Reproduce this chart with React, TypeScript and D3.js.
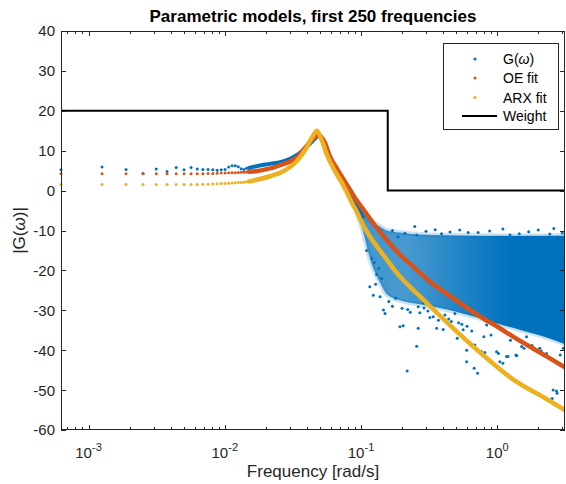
import React from 'react';
import * as d3 from 'd3';

// frequency axis (rad/s) and magnitude axis (dB)
const xDomain = [0.000628, 3.1416];
const yDomain = [-60, 40];
const xMajor = [0.001, 0.01, 0.1, 1];
const xMajorLabels = ['-3', '-2', '-1', '0'];

// first frequencies, drawn as separate dots
const lowFreq = [0.000628, 0.001257, 0.001885, 0.002513, 0.003142, 0.00377, 0.004398, 0.005027,
  0.005655, 0.006283, 0.006912, 0.00754, 0.008168, 0.008796, 0.009425, 0.010053, 0.010681,
  0.01131, 0.011938, 0.012566, 0.013195, 0.013823, 0.014451, 0.01508];
const gLow = [5.2, 5.9, 5.3, 4.3, 5.4, 4.8, 5.8, 5.2, 5.8, 5.4, 5.3, 5.3, 5.2, 5.1, 5.2, 5.3,
  5.9, 6.2, 6.2, 6.0, 5.5, 5.3, 5.6, 5.7];
const oeLow = [4.2, 4.2, 4.2, 4.2, 4.2, 4.2, 4.2, 4.2, 4.2, 4.2, 4.25, 4.3, 4.3, 4.35, 4.4, 4.4,
  4.45, 4.5, 4.5, 4.55, 4.6, 4.6, 4.65, 4.7];
const arxLow = [1.5, 1.5, 1.5, 1.5, 1.5, 1.5, 1.5, 1.5, 1.5, 1.55, 1.6, 1.6, 1.65, 1.7, 1.75,
  1.8, 1.85, 1.9, 1.95, 2.0, 2.05, 2.1, 2.2, 2.3];

// where the dots merge into a thick trace
const gTrace: [number, number][] = [[0.01508, 5.7], [0.01811, 6.3], [0.02145, 6.7], [0.02672, 7.3],
  [0.03443, 9.1], [0.04009, 11], [0.04436, 12.5], [0.04909, 13.7], [0.05336, 12], [0.05916, 8.5],
  [0.06998, 3.5], [0.08279, -0.5], [0.09313, -3.5], [0.103, -6.5]];
const oeTrace: [number, number][] = [[0.01508, 4.7], [0.01811, 5.0], [0.02672, 6.6], [0.03443, 8.5],
  [0.03945, 11.0], [0.04436, 13.0], [0.04909, 13.9], [0.05433, 12.0], [0.05916, 8.5],
  [0.06653, 5.5], [0.07874, 1.5], [0.09313, -2.5], [0.103, -4.5], [0.1161, -7], [0.1375, -10.3],
  [0.1546, -12.4], [0.1926, -16], [0.2403, -19], [0.3199, -22.8], [0.4266, -25.9],
  [0.7447, -31.5], [1.045, -34.5], [1.306, -36.6], [2.317, -41.6], [3.1416, -44.3]];
const arxTrace: [number, number][] = [[0.01508, 2.3], [0.01811, 2.9], [0.02145, 3.6], [0.02672, 4.8],
  [0.03443, 7.7], [0.03945, 10.5], [0.04363, 13.3], [0.04745, 15.0], [0.05164, 12.5],
  [0.05613, 9], [0.06223, 5.8], [0.07362, 1.5], [0.08707, -3.5], [0.09313, -5.3], [0.103, -8.5],
  [0.1161, -11.5], [0.1375, -15], [0.1546, -17.3], [0.1926, -21.5], [0.2403, -24.8],
  [0.2706, -26.5], [0.4266, -33], [0.7447, -40.5], [1.306, -47.3], [2.317, -52.3], [3.1416, -55]];

// dense noisy part of G: [freq, upper dB, lower dB]
const gCloud: [number, number, number][] = [[0.093, -3.5, -5.5], [0.103, -5.5, -10], [0.1161, -7.5, -17],
  [0.1375, -9, -23], [0.1546, -10, -26], [0.1926, -10.5, -27.5],
  [0.27, -11, -28.5], [0.4266, -11.2, -29.8], [0.7447, -11.3, -32], [1.045, -11.3, -33.5],
  [1.5, -11.3, -35], [2.3, -11.3, -36.8], [3.1416, -11.3, -38.5]];

// loose G points around the cloud
const gLooseFreq = [0.248, 0.21, 0.187, 0.256, 0.612, 0.724, 1.24, 2.43, 2.78, 0.116, 0.123, 0.138,
  0.146, 0.15, 0.193, 0.204, 0.263, 0.256, 0.218, 0.359, 0.489, 0.596, 0.596, 0.665, 0.717, 0.797,
  1.02, 1.1, 1.17, 1.37, 1.51, 2.05, 2.57, 2.72, 2.53, 0.562, 0.835, 1.64, 0.263, 0.286, 0.339,
  0.413, 0.401, 0.508, 0.677, 0.685, 0.767, 0.811, 0.989, 1.045, 1.2, 1.39, 1.57, 2.3, 2.75,
  0.3, 0.35, 0.45, 0.53, 0.88, 1.1, 1.7, 2.0, 3.0, 0.17, 0.39, 1.45, 2.6,
  0.2, 0.23, 0.31, 0.37, 0.46, 0.55, 0.65, 0.9, 1.25, 1.8, 2.1, 2.9, 3.05,
  0.125, 0.13, 0.128, 0.142, 0.135, 0.16, 0.17, 0.18, 0.11, 0.12,
  0.22, 0.27, 0.32, 0.29, 0.38, 0.44, 0.52, 0.6];
const gLooseDb = [-9.0, -10.7, -11.6, -11.1, -10.5, -10.5, -11.1, -10.9, -11.6, -24.1, -26.2, -26.6,
  -29.9, -30.8, -34.1, -33.9, -34.5, -39.0, -45.2, -34.5, -30.8, -40, -42.9, -38.7, -45.8, -36.6,
  -40.8, -43.3, -41.6, -41.2, -39.1, -39.5, -50.0, -50.2, -52.1, -34.9, -33.7, -36.6, -29.1, -28.2,
  -31.6, -31.2, -34.8, -37.0, -44.5, -38.7, -40.4, -40.6, -40.4, -42.9, -41.6, -41.4, -39.5, -40.8,
  -50.8, -10.2, -9.8, -10.4, -9.9, -10.1, -9.6, -10.3, -9.9, -10.6, -10.0, -10.8, -10.8, -9.5,
  -29.5, -30.5, -30.2, -32.5, -32.8, -33.5, -35.2, -36.2, -37.5, -38.8, -40.2, -41.2, -39.5,
  -18, -21, -23.5, -22, -19.5, -27.8, -29, -27, -15, -17,
  -29.8, -30.6, -31.8, -29.4, -31.5, -32.2, -33.1, -34.0];

// weighting: level up to the break, then level after
const weightBreak = 0.1571;
const weightLevels = [20, 0];

const legendItems = ['G', 'OE fit', 'ARX fit', 'Weight'];

const BLUE = '#0072BD';
const RED = '#D95319';
const YELLOW = '#EDB120';
const AX = '#262626';
const FONT = 'Liberation Sans, Arial, Helvetica, sans-serif';

export default function App() {
  const left = 61, right = 565, top = 31, bottom = 430;
  const x = d3.scaleLog().domain(xDomain).range([left, right]);
  const y = d3.scaleLinear().domain(yDomain).range([bottom, top]);

  const minor = x.ticks().filter(t => t >= xDomain[0] && t <= xDomain[1]);
  const yTicks = y.ticks(10);

  const trace = d3.line<[number, number]>()
    .x(d => x(d[0]))
    .y(d => y(d[1]))
    .curve(d3.curveMonotoneX);

  const cloud = d3.area<[number, number, number]>()
    .x(d => x(d[0]))
    .y0(d => y(d[2]))
    .y1(d => y(d[1]))
    .curve(d3.curveMonotoneX);

  const weight = d3.line<[number, number]>()
    .x(d => x(d[0]))
    .y(d => y(d[1]))
    .curve(d3.curveStepAfter)([[xDomain[0], weightLevels[0]], [weightBreak, weightLevels[1]], [xDomain[1], weightLevels[1]]]);

  const lx = 443, ly = 43, lw = 115, lh = 86;
  const rowY = [59, 78, 97.5, 116];

  return (
    <svg width={566} height={484} style={{ position: 'absolute', left: 0, top: 0, background: '#fff' }}
      fontFamily={FONT}>
      <defs>
        <clipPath id="plot">
          <rect x={left} y={top} width={right - left} height={bottom - top} />
        </clipPath>
        <linearGradient id="cloudGrad" gradientUnits="userSpaceOnUse" x1={340} x2={565} y1={0} y2={0}>
          <stop offset="0" stopColor={BLUE} stopOpacity={0.75} />
          <stop offset="0.3" stopColor={BLUE} stopOpacity={0.72} />
          <stop offset="0.55" stopColor={BLUE} stopOpacity={0.88} />
          <stop offset="0.75" stopColor={BLUE} stopOpacity={1} />
        </linearGradient>
      </defs>
      <rect x={left} y={top} width={right - left} height={bottom - top} fill="#fff" />

      <g clipPath="url(#plot)">
        <path d={cloud(gCloud) ?? ''} fill="none" stroke={BLUE} strokeOpacity={0.2}
          strokeWidth={5} strokeLinejoin="round" />
        <path d={cloud(gCloud) ?? ''} fill="url(#cloudGrad)" />
        <path d={trace(gTrace) ?? ''} fill="none" stroke={BLUE} strokeWidth={4} strokeLinecap="round" />
        {gLooseFreq.map((f, i) => (
          <circle key={'gl' + i} cx={x(f)} cy={y(gLooseDb[i])} r={1.5} fill={BLUE} />
        ))}
        <path d={trace(oeTrace) ?? ''} fill="none" stroke={RED} strokeWidth={4.5} strokeLinecap="round" />
        <path d={trace(arxTrace) ?? ''} fill="none" stroke={YELLOW} strokeWidth={4.5} strokeLinecap="round" />
      </g>
      {lowFreq.map((f, i) => (
        <g key={'low' + i}>
          <circle cx={x(f)} cy={y(gLow[i])} r={1.5} fill={BLUE} />
          <circle cx={x(f)} cy={y(oeLow[i])} r={1.5} fill={RED} />
          <circle cx={x(f)} cy={y(arxLow[i])} r={1.5} fill={YELLOW} />
        </g>
      ))}
      <path d={weight ?? ''} fill="none" stroke="#000" strokeWidth={2} clipPath="url(#plot)" />

      {/* axes box and ticks */}
      <g stroke={AX} strokeWidth={1} fill="none">
        <rect x={left + 0.5} y={top + 0.5} width={right - left - 1} height={bottom - top - 1} />
        {minor.map((t, i) => {
          const major = xMajor.includes(+t.toPrecision(3));
          const len = major ? 5 : 3;
          const px = Math.round(x(t)) + 0.5;
          return (
            <g key={'xt' + i}>
              <line x1={px} x2={px} y1={bottom} y2={bottom - len} />
              <line x1={px} x2={px} y1={top} y2={top + len} />
            </g>
          );
        })}
        {yTicks.map(t => {
          const py = Math.round(y(t)) + 0.5;
          return (
            <g key={'yt' + t}>
              <line x1={left} x2={left + 5} y1={py} y2={py} />
              <line x1={right} x2={right - 5} y1={py} y2={py} />
            </g>
          );
        })}
      </g>

      {yTicks.map(t => (
        <text key={'yl' + t} x={left - 6} y={y(t)} dy="0.36em" textAnchor="end" fontSize={15} fill={AX}>
          {t}
        </text>
      ))}
      {xMajor.map((t, i) => (
        <text key={'xl' + t} x={x(t)} y={458} textAnchor="middle" fontSize={15} fill={AX}>
          10<tspan dy={-7} fontSize={11}>{xMajorLabels[i]}</tspan>
        </text>
      ))}

      <text x={(left + right) / 2} y={477} textAnchor="middle" fontSize={17} fill={AX}>Frequency [rad/s]</text>
      <text transform={`translate(25,${(top + bottom) / 2}) rotate(-90)`} textAnchor="middle" fontSize={17} fill={AX}>
        |G(<tspan fontStyle="italic">ω</tspan>)|
      </text>
      <text x={(left + right) / 2} y={22} textAnchor="middle" fontSize={17} fontWeight="bold" fill="#000">
        Parametric models, first 250 frequencies
      </text>

      {/* legend */}
      <rect x={lx + 0.5} y={ly + 0.5} width={lw} height={lh} fill="#fff" stroke={AX} strokeWidth={1} />
      {legendItems.map((name, i) => (
        <g key={name}>
          {i < 3 ? (
            <circle cx={475} cy={rowY[i]} r={1.6} fill={[BLUE, RED, YELLOW][i]} />
          ) : (
            <line x1={462} x2={497} y1={rowY[i]} y2={rowY[i]} stroke="#000" strokeWidth={2} />
          )}
          <text x={503} y={rowY[i]} dy="0.36em" fontSize={14} fill="#000">
            {i === 0 ? <>G(<tspan fontStyle="italic">ω</tspan>)</> : name}
          </text>
        </g>
      ))}
    </svg>
  );
}
